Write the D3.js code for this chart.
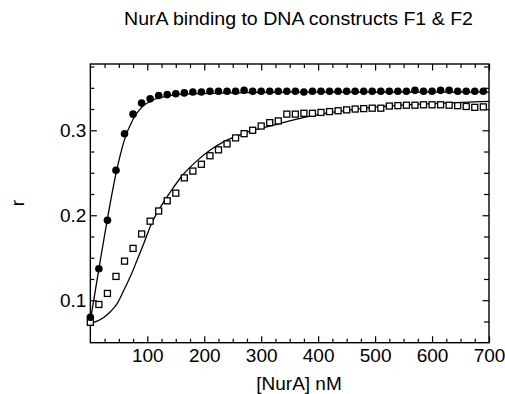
<!DOCTYPE html>
<html>
<head>
<meta charset="utf-8">
<script src="https://cdn.jsdelivr.net/npm/d3@7"></script>
<style>
  body { margin: 0; background: #fff; }
  svg { display: block; font-family: "Liberation Sans", Arial, Helvetica, sans-serif; }
</style>
</head>
<body>
<div id="chart"></div>
<script>
// --- dimensions ---
const width = 505;
const height = 394;
const margin = { top: 64, right: 16, bottom: 51.3, left: 90.35 };

// --- data ---
// concentration de NurA (nM), identique pour les deux séries
const nura = [0, 15, 30, 45, 60, 75, 90, 105, 120, 135, 150, 165, 180, 195, 210, 225,
  240, 255, 270, 285, 300, 315, 330, 345, 360, 375, 390, 405, 420, 435, 450, 465,
  480, 495, 510, 525, 540, 555, 570, 585, 600, 615, 630, 645, 660, 675, 690];

// F1 : cercles pleins
const f1 = [0.080, 0.137, 0.194, 0.253, 0.296, 0.319, 0.332, 0.337, 0.341, 0.342,
  0.343, 0.344, 0.345, 0.345, 0.346, 0.346, 0.346, 0.346, 0.347, 0.346,
  0.346, 0.346, 0.346, 0.346, 0.346, 0.345, 0.346, 0.346, 0.346, 0.346,
  0.346, 0.346, 0.346, 0.346, 0.346, 0.346, 0.346, 0.346, 0.347, 0.346,
  0.346, 0.347, 0.347, 0.346, 0.346, 0.346, 0.346];

// F2 : carrés vides
const f2 = [0.074, 0.095, 0.108, 0.128, 0.146, 0.161, 0.178, 0.193, 0.205, 0.217,
  0.226, 0.244, 0.252, 0.260, 0.270, 0.277, 0.284, 0.291, 0.296, 0.300,
  0.305, 0.309, 0.311, 0.319, 0.319, 0.320, 0.320, 0.321, 0.322, 0.323,
  0.324, 0.325, 0.3255, 0.326, 0.326, 0.3285, 0.329, 0.3295, 0.3295, 0.330,
  0.330, 0.330, 0.3295, 0.329, 0.328, 0.327, 0.3275];

// courbes d'ajustement
const fit1X = [0, 15, 30, 45, 60, 75, 90, 105, 120, 135, 150, 180, 250, 350, 700];
const fit1Y = [0.076, 0.137, 0.196, 0.249, 0.289, 0.313, 0.327, 0.334, 0.338, 0.340,
  0.342, 0.343, 0.344, 0.345, 0.345];

const fit2X = [0, 12, 24, 36, 47, 59, 71, 82, 94, 106, 118, 129, 140, 163, 187, 210,
  233, 257, 280, 304, 327, 350, 409, 468, 526, 585, 643, 700];
const fit2Y = [0.073, 0.0755, 0.080, 0.087, 0.096, 0.112, 0.129, 0.147, 0.167, 0.188,
  0.204, 0.216, 0.227, 0.248, 0.264, 0.2765, 0.286, 0.293, 0.299, 0.303,
  0.307, 0.311, 0.3196, 0.325, 0.3286, 0.331, 0.3325, 0.334];

// ticks
const xMajor = [100, 200, 300, 400, 500, 600, 700];
const xMinor = [25, 50, 75, 125, 150, 175, 225, 250, 275, 325, 350, 375, 425, 450, 475,
  525, 550, 575, 625, 650, 675];
const yMajor = [0.1, 0.2, 0.3];
const yMinor = [0.075, 0.125, 0.15, 0.175, 0.225, 0.25, 0.275, 0.325, 0.35, 0.375];

const title = "NurA binding to DNA constructs F1 & F2";
const xLabel = "[NurA] nM";
const yLabel = "r";

// --- svg ---
const svg = d3.select("#chart").append("svg")
  .attr("width", width).attr("height", height);

const x = d3.scaleLinear().domain([0, 700]).range([margin.left, width - margin.right]);
const y = d3.scaleLinear().domain([0.05, 0.378]).range([height - margin.bottom, margin.top]);

const fontSize = 19;

// axes (ticks vers l'intérieur)
function addAxis(axisFn, scale, values, size, transform, labels) {
  const g = svg.append("g")
    .attr("transform", transform)
    .call(axisFn(scale).tickValues(values).tickSizeInner(-size).tickSizeOuter(0)
      .tickPadding(labels ? 6 : 0)
      .tickFormat(labels ? d3.format(labels) : ""));
  g.select(".domain").remove();
  g.selectAll(".tick line").attr("stroke", "#000").attr("stroke-width", 1.2);
  g.selectAll("text").attr("fill", "#000").style("font-size", fontSize + "px");
  return g;
}

const bottomY = height - margin.bottom;
const rightX = width - margin.right;

addAxis(d3.axisBottom, x, xMajor, 6.5, `translate(0,${bottomY})`, "d")
  .selectAll("text").attr("dy", "0.7em");
addAxis(d3.axisBottom, x, xMinor, 4, `translate(0,${bottomY})`, null);
addAxis(d3.axisTop, x, xMajor, 6.5, `translate(0,${margin.top})`, null);
addAxis(d3.axisTop, x, xMinor, 4, `translate(0,${margin.top})`, null);

addAxis(d3.axisLeft, y, yMajor, 6.5, `translate(${margin.left},0)`, ".1f")
  .selectAll("text").attr("dx", "2px");
addAxis(d3.axisLeft, y, yMinor, 4, `translate(${margin.left},0)`, null);
addAxis(d3.axisRight, y, yMajor, 6.5, `translate(${rightX},0)`, null);
addAxis(d3.axisRight, y, yMinor, 5, `translate(${rightX},0)`, null);

// cadre
svg.append("rect")
  .attr("x", margin.left).attr("y", margin.top)
  .attr("width", rightX - margin.left).attr("height", bottomY - margin.top)
  .attr("fill", "none").attr("stroke", "#000").attr("stroke-width", 1.4);

// courbes d'ajustement
const line = d3.line().x(d => x(d[0])).y(d => y(d[1])).curve(d3.curveMonotoneX);

svg.append("path")
  .datum(fit1X.map((v, i) => [v, fit1Y[i]]))
  .attr("d", line).attr("fill", "none").attr("stroke", "#000").attr("stroke-width", 1.3);

svg.append("path")
  .datum(fit2X.map((v, i) => [v, fit2Y[i]]))
  .attr("d", line).attr("fill", "none").attr("stroke", "#000").attr("stroke-width", 1.3);

// points F2 (carrés)
const sq = 6;
svg.append("g").selectAll("rect")
  .data(nura.map((v, i) => [v, f2[i]]))
  .join("rect")
  .attr("x", d => x(d[0]) - sq / 2).attr("y", d => y(d[1]) - sq / 2)
  .attr("width", sq).attr("height", sq)
  .attr("fill", "#fff").attr("stroke", "#000").attr("stroke-width", 1.3);

// points F1 (cercles)
svg.append("g").selectAll("circle")
  .data(nura.map((v, i) => [v, f1[i]]))
  .join("circle")
  .attr("cx", d => x(d[0])).attr("cy", d => y(d[1]))
  .attr("r", 3.8).attr("fill", "#000");

// textes
svg.append("text")
  .attr("x", 298.5).attr("y", 25)
  .attr("text-anchor", "middle")
  .attr("textLength", 349).attr("lengthAdjust", "spacingAndGlyphs")
  .style("font-size", "18px")
  .text(title);

svg.append("text")
  .attr("x", 299).attr("y", 389.5)
  .attr("text-anchor", "middle")
  .style("font-size", fontSize + "px")
  .text(xLabel);

svg.append("text")
  .attr("transform", "translate(24,203) rotate(-90)")
  .attr("text-anchor", "middle")
  .style("font-size", fontSize + "px")
  .text(yLabel);
</script>
</body>
</html>
